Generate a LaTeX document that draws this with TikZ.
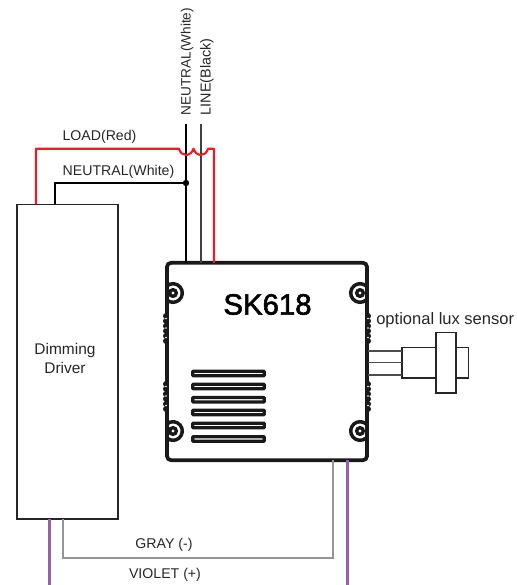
\documentclass[tikz,border=0pt]{standalone}
\usepackage{fontspec}
\setmainfont{Liberation Sans}
\newfontfamily\skfont[FakeBold=2]{Liberation Sans}
\definecolor{wirered}{HTML}{ED1C24}
\definecolor{wiregray}{HTML}{939598}
\definecolor{wireviolet}{HTML}{9461AD}
\usetikzlibrary{positioning}

\begin{document}
\begin{tikzpicture}[
        x=0.75pt, y=-0.75pt,
        lbl/.style={inner sep=0pt, font=\fontsize{10.6}{14}\selectfont, text=black!85, align=center},
        outline/.style={rectangle, draw=black!85, line width=1.1pt, inner sep=0pt, outer sep=0pt},
        sensorpart/.style={rectangle, draw=black!85, line width=0.9pt, fill=white, inner sep=0pt, outer sep=0pt},
        vent/.style={rectangle, draw=black!90, line width=2.4pt, minimum width=53.7pt, minimum height=3.3pt, rounded corners=0.5pt, inner sep=0pt},
        wire/.style={line width=1.6pt},
        lead/.style={line width=1pt, draw=black!70}
    ]
        \useasboundingbox (0,0) rectangle (517,585);

        % Driver and module
        \node[outline, minimum width=75.75pt, minimum height=236pt] (driver) at (67.5,361.75) {};
        \node[lbl, font=\fontsize{11.6}{14}\selectfont] (drivertext) at (65,358.5) {Dimming\\Driver};
        \node[rectangle, draw=black!90, line width=2.8pt, rounded corners=3pt, minimum width=150pt, minimum height=148pt, inner sep=0pt, outer sep=0pt] (sk) at (267,361.5) {};
        \node[inner sep=0pt, font=\fontsize{22}{24}\selectfont\skfont] (skname) at (267.5,304.5) {SK618};

        % Vents
        \foreach \name/\ypos in {a/373.5, b/386.5, c/399.7, d/412.5, e/425.5, f/439}
            \node[vent] (vent\name) at (228.5,\ypos) {};

        % Screws
        \foreach \name/\xpos/\ypos/\first in {tl/173/293/-130, tr/360/293/50, bl/173/431/-130, br/360/431/50} {
            \coordinate (screw\name) at (\xpos,\ypos);
            \draw[line width=2.6pt, black!90] (screw\name) ++(\first:9.3) arc[start angle=\first, delta angle=260, radius=9.3];
            \node[circle, draw=black!90, line width=2.5pt, fill=white, minimum size=5pt, inner sep=0pt] (pin\name) at (screw\name) {};
        }

        % Edge beads
        \foreach \xpos in {166,368} {
            \foreach \ypos in {316,321,326,331,336,341,384,389,394,399,404,409}
                \fill[black!90] (\xpos,\ypos) circle[radius=3];
            \foreach \ypos in {318.5,328,337.5,386.5,396,405.5}
                \fill[white] (\xpos,\ypos) circle[radius=0.9];
        }

        % Top wires
        \coordinate (neutraltop) at (186,124);
        \coordinate (linetop) at (201,124);
        \coordinate (redbend) at (214,148.7);
        \coordinate (redleft) at (36,148.7);
        \coordinate (blackleft) at (55,183);
        \coordinate (junction) at (186,183);
        \draw[wire, black] (neutraltop) -- (neutraltop |- sk.north);
        \draw[wire, black!75] (linetop) -- (linetop |- sk.north);
        \draw[wire, black] (blackleft |- driver.north) -- (blackleft) -- (junction);
        \fill[black] (junction) circle[radius=3.2];
        \draw[wire, wirered, line join=round] (redleft |- driver.north) -- (redleft) -- (179,148.7)
            .. controls (181,157) and (191,157) .. (193.5,148.7)
            .. controls (196,157) and (206,157) .. (208,148.7) -- (redbend) -- (redbend |- sk.north);

        % Bottom wires
        \coordinate (grayleft) at (63,557.7);
        \coordinate (grayright) at (333,557.7);
        \coordinate (violetleft) at (49.5,585);
        \coordinate (violetright) at (347.5,585);
        \draw[wire, wiregray] (grayleft |- driver.south) -- (grayleft) -- (grayright) -- (grayright |- sk.south);
        \draw[wire, wireviolet] (violetleft |- driver.south) -- (violetleft);
        \draw[wire, wireviolet] (violetright |- sk.south) -- (violetright);

        % Lux sensor
        \node[sensorpart, minimum width=25.5pt, minimum height=23pt] (sbody) at (419,362.7) {};
        \node[sensorpart, right=0pt of sbody, minimum width=15pt, minimum height=45.5pt] (sflange) {};
        \node[sensorpart, right=0pt of sflange, minimum width=9.5pt, minimum height=23pt] (stip) {};
        \draw[lead] (sbody.west |- 0,351) -- ++(-34,0);
        \draw[lead] (sbody.west) -- ++(-34,0);
        \draw[lead] (sbody.west |- 0,375) -- ++(-34,0);

        % Labels
        \node[lbl, anchor=base] (loadlbl) at (99.5,140) {LOAD(Red)};
        \node[lbl, anchor=base] (neutrallbl) at (118.5,175) {NEUTRAL(White)};
        \node[lbl, anchor=west, rotate=90, font=\fontsize{10.2}{14}\selectfont] (neutralup) at (187,115.5) {NEUTRAL(White)};
        \node[lbl, anchor=west, rotate=90, font=\fontsize{10.8}{14}\selectfont] (lineup) at (207,115.5) {LINE(Black)};
        \node[lbl, anchor=west, font=\fontsize{12.4}{14}\selectfont] (luxlbl) at (376,320) {optional lux sensor};
        \node[lbl, anchor=base] (graylbl) at (164,548) {GRAY (-)};
        \node[lbl, anchor=base] (violetlbl) at (165,578) {VIOLET (+)};
    \end{tikzpicture}
\end{document}
